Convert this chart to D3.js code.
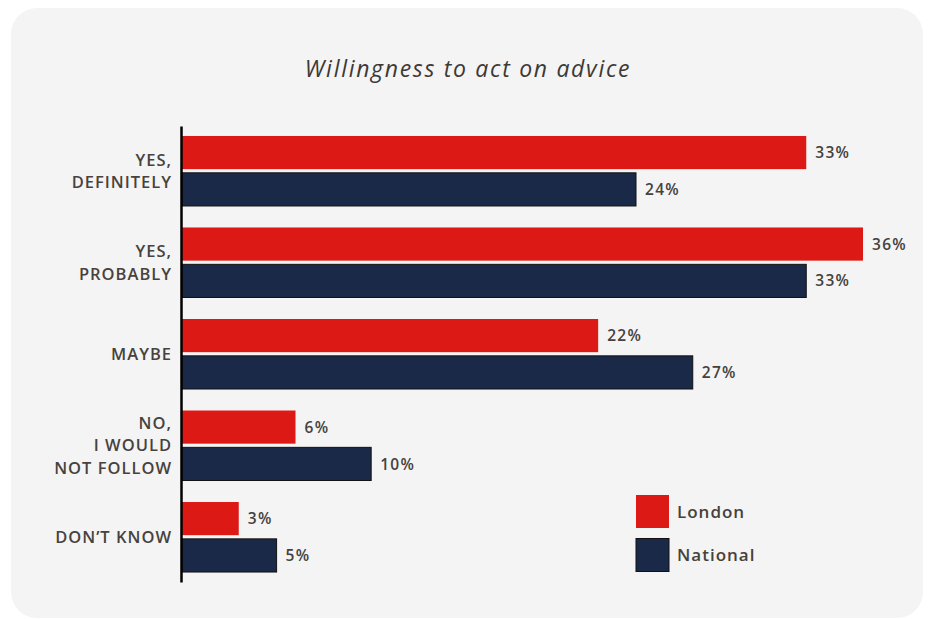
<!DOCTYPE html>
<html lang="en">
	<head>
		<meta charset="utf-8">
		<title>Willingness to act on advice</title>
		<script type="text/javascript" src="https://cdn.jsdelivr.net/npm/d3@7"></script>
		<style type="text/css">
			body { margin: 0; background: #ffffff; }
			text { font-family: "Open Sans", sans-serif; }
		</style>
	</head>
	<body>
		<script type="text/javascript">

			//Data
			var categories = ["YES,\nDEFINITELY", "YES,\nPROBABLY", "MAYBE", "NO,\nI WOULD\nNOT FOLLOW", "DON\u2019T KNOW"];
			var seriesNames = ["London", "National"];
			var london = [33, 36, 22, 6, 3];
			var national = [24, 33, 27, 10, 5];
			var colors = ["#dd1916", "#1b2948"];

			var dataset = categories.map(function(c, i) {
				return { cat: c, values: [
					{ key: "London", value: london[i] },
					{ key: "National", value: national[i] }
				] };
			});

			//Width and height
			var w = 928;
			var h = 619;

			var svg = d3.select("body")
						.append("svg")
						.attr("width", w)
						.attr("height", h);

			//Card background
			svg.append("rect")
			   .attr("x", 11)
			   .attr("y", 8)
			   .attr("width", 912)
			   .attr("height", 610)
			   .attr("rx", 26)
			   .attr("fill", "#f4f4f4");

			//Title
			svg.append("text")
			   .text("Willingness to act on advice")
			   .attr("x", 468)
			   .attr("y", 77)
			   .attr("text-anchor", "middle")
			   .attr("font-size", "23px")
			   .attr("letter-spacing", "1.7px")
			   .attr("font-style", "italic")
			   .attr("fill", "#3d3935");

			var x0 = 182;
			var xScale = d3.scaleLinear()
							.domain([0, 36])
							.range([x0, 863]);

			var yScale = d3.scaleBand()
							.domain(categories)
							.range([126, 582])
							.paddingInner(0.235)
							.paddingOuter(0.109);

			var ySub = d3.scaleBand()
							.domain(seriesNames)
							.range([0, yScale.bandwidth()])
							.paddingInner(0.1);

			//Groups of bars
			var groups = svg.selectAll("g.grp")
							.data(dataset)
							.enter()
							.append("g")
							.attr("class", "grp")
							.attr("transform", function(d) {
								return "translate(0," + yScale(d.cat) + ")";
							});

			groups.selectAll("rect")
				  .data(function(d) { return d.values; })
				  .enter()
				  .append("rect")
				  .attr("x", x0)
				  .attr("y", function(d) { return ySub(d.key); })
				  .attr("width", function(d) { return xScale(d.value) - x0; })
				  .attr("height", ySub.bandwidth())
				  .attr("fill", function(d, i) { return colors[i]; })
				  .attr("stroke", function(d, i) { return i == 1 ? "#111111" : "none"; })
				  .attr("stroke-width", 1);

			groups.selectAll("text")
				  .data(function(d) { return d.values; })
				  .enter()
				  .append("text")
				  .text(function(d) { return d.value + "%"; })
				  .attr("x", function(d) { return xScale(d.value) + 9; })
				  .attr("y", function(d) { return ySub(d.key) + ySub.bandwidth() / 2; })
				  .attr("dy", "0.36em")
				  .attr("font-size", "15.5px")
				  .attr("letter-spacing", "1.3px")
				  .attr("font-weight", 600)
				  .attr("fill", "#45413d");

			//Axis
			var axis = d3.axisLeft(yScale)
						 .tickSizeInner(0)
						 .tickSizeOuter(0)
						 .tickPadding(10);

			var gAxis = svg.append("g")
						   .attr("transform", "translate(181,0)")
						   .call(axis);

			gAxis.select(".domain")
				 .attr("stroke", "#000000")
				 .attr("stroke-width", 2.5);

			gAxis.selectAll(".tick text")
				 .attr("font-family", "'Open Sans', sans-serif")
				 .attr("font-size", "16.5px")
				 .attr("letter-spacing", "1px")
				 .attr("font-weight", 600)
				 .attr("fill", "#47423e")
				 .each(function(d) {
					var lines = d.split("\n");
					var t = d3.select(this).text(null).attr("dy", null);
					var lh = 22.5;
					lines.forEach(function(l, i) {
						t.append("tspan")
						 .attr("x", -9)
						 .attr("y", (i - (lines.length - 1) / 2) * lh)
						 .attr("dy", "0.36em")
						 .text(l);
					});
				 });

			//Legend
			var legend = svg.selectAll("g.leg")
							.data(seriesNames)
							.enter()
							.append("g")
							.attr("class", "leg")
							.attr("transform", function(d, i) {
								return "translate(636," + (495 + i * 43.5) + ")";
							});

			legend.append("rect")
				  .attr("width", 33)
				  .attr("height", 33)
				  .attr("fill", function(d, i) { return colors[i]; })
				  .attr("stroke", function(d, i) { return i == 1 ? "#111111" : "none"; });

			legend.append("text")
				  .text(function(d) { return d; })
				  .attr("x", 41)
				  .attr("y", 16.5)
				  .attr("dy", "0.36em")
				  .attr("font-size", "17px")
				  .attr("letter-spacing", "1px")
				  .attr("font-weight", 600)
				  .attr("fill", "#45413d");

		</script>
	</body>
</html>
